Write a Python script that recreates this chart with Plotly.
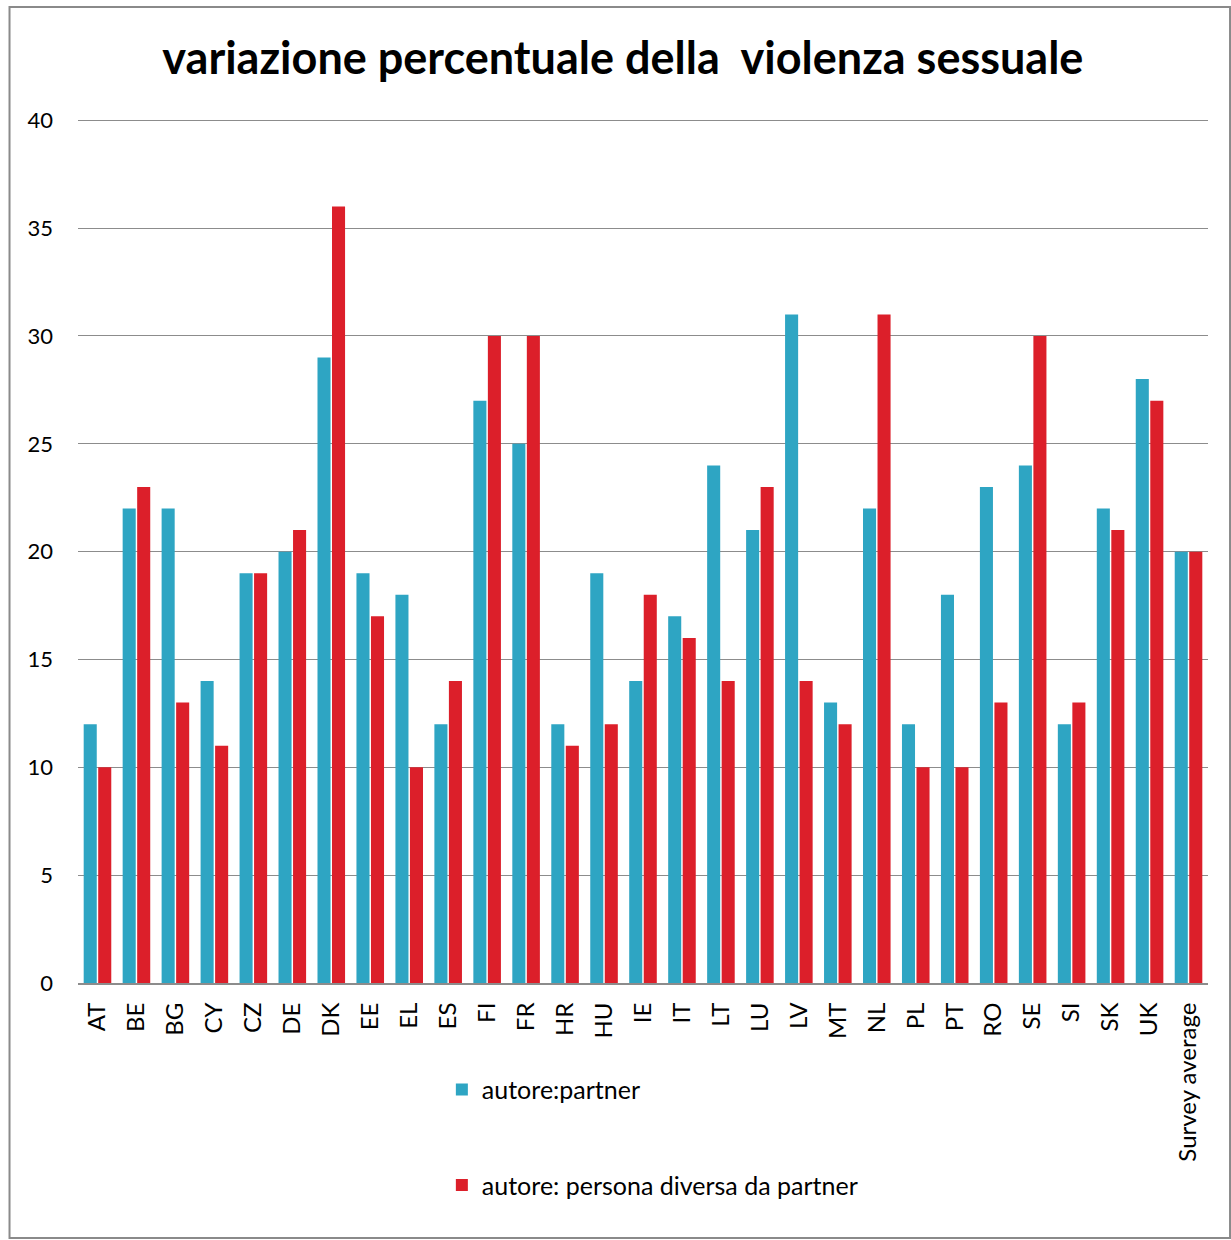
import plotly.graph_objects as go

categories = ["AT", "BE", "BG", "CY", "CZ", "DE", "DK", "EE", "EL", "ES", "FI", "FR", "HR", "HU",
              "IE", "IT", "LT", "LU", "LV", "MT", "NL", "PL", "PT", "RO", "SE", "SI", "SK", "UK",
              "Survey average"]
partner = [12, 22, 22, 14, 19, 20, 29, 19, 18, 12, 27, 25, 12, 19,
           14, 17, 24, 21, 31, 13, 22, 12, 18, 23, 24, 12, 22, 28, 20]
non_partner = [10, 23, 13, 11, 19, 21, 36, 17, 10, 14, 30, 30, 11, 12,
               18, 16, 14, 23, 14, 12, 31, 10, 10, 13, 30, 13, 21, 27, 20]
y_ticks = [0, 5, 10, 15, 20, 25, 30, 35, 40]

FONT = "Lato"

fig = go.Figure()
fig.add_trace(go.Bar(x=categories, y=partner, name="autore:partner",
                     marker=dict(color="#2EA5C3", line=dict(width=0)), legendgroup="a"))
fig.add_trace(go.Bar(x=categories, y=non_partner, name="autore: persona diversa da partner",
                     marker=dict(color="#DC1F2A", line=dict(width=0)), legendgroup="b"))

fig.update_layout(
    width=1231, height=1240,
    margin=dict(l=78, r=23, t=119, b=257),
    paper_bgcolor="white", plot_bgcolor="white",
    font=dict(family=FONT, color="black", size=22),
    title=dict(text="<b>variazione percentuale della  violenza sessuale</b>",
               x=0.506, xanchor="center", y=0.953, yanchor="middle",
               font=dict(size=45, family=FONT, color="black")),
    barmode="group", bargap=0.255, bargroupgap=0.1,
    legend=dict(orientation="v", x=0.322, xanchor="left", y=-0.097, yanchor="top",
                font=dict(size=25, family=FONT), tracegroupgap=60,
                itemwidth=30, bgcolor="rgba(0,0,0,0)"),
    showlegend=True,
    xaxis=dict(tickangle=-90, showline=True, linecolor="#8C8C8C", linewidth=2,
               ticks="", showgrid=False, tickfont=dict(size=24), ticklabelstandoff=8),
    yaxis=dict(range=[0, 40.06], tickvals=y_ticks, showgrid=True, gridcolor="#8C8C8C",
               gridwidth=1, zeroline=False, showline=False, ticks="",
               tickfont=dict(size=22), ticklabelstandoff=24),
    shapes=[dict(type="rect", xref="paper", yref="paper",
                 x0=-0.0606, x1=1.0195, y0=-0.2952, y1=1.1296,
                 line=dict(color="#8A8A8A", width=2), fillcolor="rgba(0,0,0,0)", layer="below")],
)

fig.write_html("out.html")
